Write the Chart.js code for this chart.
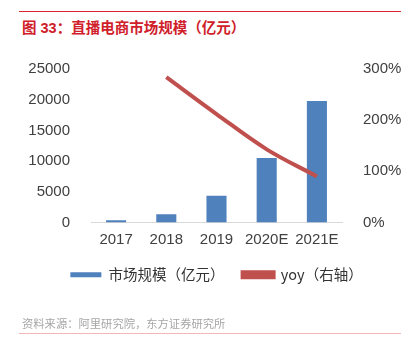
<!DOCTYPE html>
<html>
<head>
<meta charset="utf-8">
<script src="https://cdn.jsdelivr.net/npm/chart.js@4"></script>
<style>
  body { margin: 0; background: #fff; width: 401px; height: 353px; overflow: hidden; position: relative; }
  #topline { position: absolute; left: 19px; right: 0; top: 11px; height: 1px; background: #d9262c; }
  #title { position: absolute; left: 22px; top: 16px; font: bold 14.5px "Liberation Sans", "Noto Sans CJK SC", sans-serif; color: #d0202a; }
  #source { position: absolute; left: 22px; top: 315px; font: 11.3px "Noto Sans CJK SC", sans-serif; color: #a6a6a6; }
  #botline { position: absolute; left: 19px; right: 0; top: 333px; height: 1px; background: #f2b8b8; }
  #wrap { position: absolute; left: 0; top: 0; width: 401px; height: 353px; }
</style>
</head>
<body>
<div id="topline"></div>
<div id="title">图 33：直播电商市场规模（亿元）</div>
<div id="wrap"><canvas id="chart"></canvas></div>
<div id="source">资料来源：阿里研究院，东方证券研究所</div>
<div id="botline"></div>
<script>
const years = ["2017", "2018", "2019", "2020E", "2021E"];
const marketSize = [350, 1354, 4338, 10500, 19800];
const yoy = [null, 284, 212, 143, 90];

const tickFont = { family: "'Liberation Sans', 'Noto Sans CJK SC', sans-serif", size: 15 };

// legend in the original is centred under the plot, not the whole canvas
const legendShift = {
  id: "legendShift",
  afterLayout(chart) {
    chart.legend.left += 32;
  }
};

new Chart(document.getElementById("chart"), {
  data: {
    labels: years,
    datasets: [
      {
        type: "line",
        label: "yoy（右轴）",
        data: yoy,
        yAxisID: "y2",
        borderColor: "#c0504d",
        backgroundColor: "#c0504d",
        borderWidth: 4,
        pointRadius: 0,
        tension: 0.35,
        order: 1
      },
      {
        type: "bar",
        label: "市场规模（亿元）",
        data: marketSize,
        yAxisID: "y",
        backgroundColor: "#4f81bd",
        barPercentage: 0.4,
        categoryPercentage: 1,
        order: 2
      }
    ]
  },
  plugins: [legendShift],
  options: {
    responsive: true,
    maintainAspectRatio: false,
    animation: false,
    layout: { padding: { top: 69, bottom: 61, left: 0, right: 0 } },
    plugins: {
      tooltip: { enabled: false },
      legend: {
        position: "bottom",
        reverse: true,
        labels: {
          boxWidth: 31,
          boxHeight: 5,
          padding: 18,
          color: "#333",
          font: { family: "'Noto Sans CJK SC', sans-serif", size: 14.5 }
        }
      }
    },
    scales: {
      x: {
        grid: { display: false, drawTicks: false },
        border: { color: "#d9d9d9" },
        ticks: { color: "#404040", font: tickFont, padding: 8, maxRotation: 0 },
        afterFit: s => { s.height = 27; }
      },
      y: {
        position: "left",
        min: 0, max: 25000,
        ticks: { stepSize: 5000, color: "#404040", font: tickFont, padding: 13, callback: v => String(v) },
        grid: { display: false },
        border: { display: false },
        afterFit: s => { s.width = 91; }
      },
      y2: {
        position: "right",
        min: 0, max: 300,
        ticks: { stepSize: 100, color: "#404040", font: tickFont, padding: 13, callback: v => v + "%" },
        grid: { display: false },
        border: { display: false },
        afterFit: s => { s.width = 59; }
      }
    }
  }
});
</script>
</body>
</html>
